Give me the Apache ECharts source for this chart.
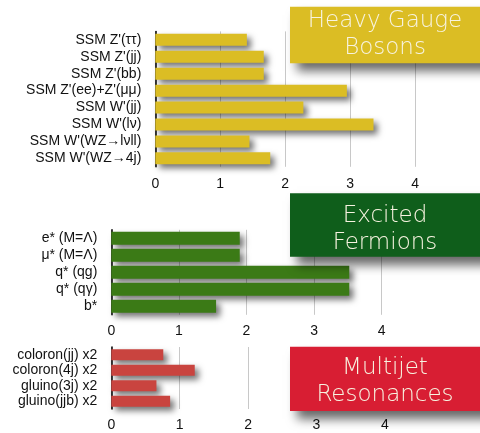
<!DOCTYPE html>
<html>
<head>
<meta charset="utf-8">
<script src="https://cdn.jsdelivr.net/npm/echarts@6/dist/echarts.min.js"></script>
<style>html,body{margin:0;padding:0;background:#fff}#c{width:480px;height:433px}</style>
</head>
<body>
<div id="c"></div>
<script>
const hgbCats = ["SSM Z'(ττ)", "SSM Z'(jj)", "SSM Z'(bb)", "SSM Z'(ee)+Z'(μμ)", "SSM W'(jj)", "SSM W'(lν)", "SSM W'(WZ→lνll)", "SSM W'(WZ→4j)"];
const hgbVals = [1.41, 1.67, 1.67, 2.95, 2.28, 3.36, 1.45, 1.77];
const efCats = ["e* (M=Λ)", "μ* (M=Λ)", "q* (qg)", "q* (qγ)", "b*"];
const efVals = [1.90, 1.90, 3.52, 3.52, 1.55];
const mjCats = ["coloron(jj) x2", "coloron(4j) x2", "gluino(3j) x2", "gluino(jjb) x2"];
const mjVals = [0.76, 1.22, 0.66, 0.86];
const boxTitles = ["Heavy Gauge\nBosons", "Excited\nFermions", "Multijet\nResonances"];

const chart = echarts.init(document.getElementById('c'), null, {renderer: 'canvas'});
const labelFont = {fontFamily: 'Liberation Sans', fontSize: 14, color: '#111'};

const grids = [
  {left: 155.3, top: 31.4, width: 338.5, height: 135.4},
  {left: 111.3, top: 229.8, width: 338, height: 85},
  {left: 111.3, top: 347, width: 342, height: 62}
];
function xAx(i, margin) {
  return {
    type: 'value', gridIndex: i, min: 0, max: 5, interval: 1,
    axisLine: {show: false}, axisTick: {show: false},
    axisLabel: Object.assign({margin: margin, showMaxLabel: false}, labelFont),
    splitLine: {show: true, showMaxLine: false, lineStyle: {color: '#c8c8c8', width: 1}}
  };
}
function yAx(i, cats) {
  return {
    type: 'category', gridIndex: i, data: cats, inverse: true,
    axisLine: {show: true, lineStyle: {color: '#000', width: 1.5}},
    axisTick: {show: false},
    axisLabel: Object.assign({margin: 14, interval: 0}, labelFont)
  };
}
function bar(i, vals, color, w) {
  return {
    type: 'bar', xAxisIndex: i, yAxisIndex: i, data: vals, barWidth: w,
    itemStyle: {color: color, shadowBlur: 6, shadowOffsetX: 4, shadowOffsetY: 4, shadowColor: 'rgba(0,0,0,0.55)'},
    silent: true, animation: false
  };
}
function box(y, h, color, text, ty) {
  return [
    {type: 'rect', zlevel: 1, z: 100, shape: {x: 290, y: y, width: 200, height: h},
     style: {fill: color, shadowBlur: 10, shadowOffsetX: 7, shadowOffsetY: 8, shadowColor: 'rgba(0,0,0,0.6)'}},
    {type: 'text', zlevel: 1, z: 101, x: 385, y: ty,
     style: {text: text, fill: '#f7f3e0', font: '200 23px "DejaVu Sans"', align: 'center', verticalAlign: 'middle', lineHeight: 27}}
  ];
}

chart.setOption({
  animation: false,
  grid: grids,
  xAxis: [xAx(0, 10), xAx(1, 9), xAx(2, 9)],
  yAxis: [yAx(0, hgbCats), yAx(1, efCats), yAx(2, mjCats)],
  series: [
    bar(0, hgbVals, '#dbbd24', 12),
    bar(1, efVals, '#3b7a16', 13),
    bar(2, mjVals, '#c9443f', 11)
  ],
  graphic: [].concat(
    box(6.7, 56.6, '#dbbd24', boxTitles[0], 35),
    box(193.3, 63.4, '#0f5e1b', boxTitles[1], 229.5),
    box(346.7, 64.3, '#d81e33', boxTitles[2], 382)
  )
});
</script>
</body>
</html>
